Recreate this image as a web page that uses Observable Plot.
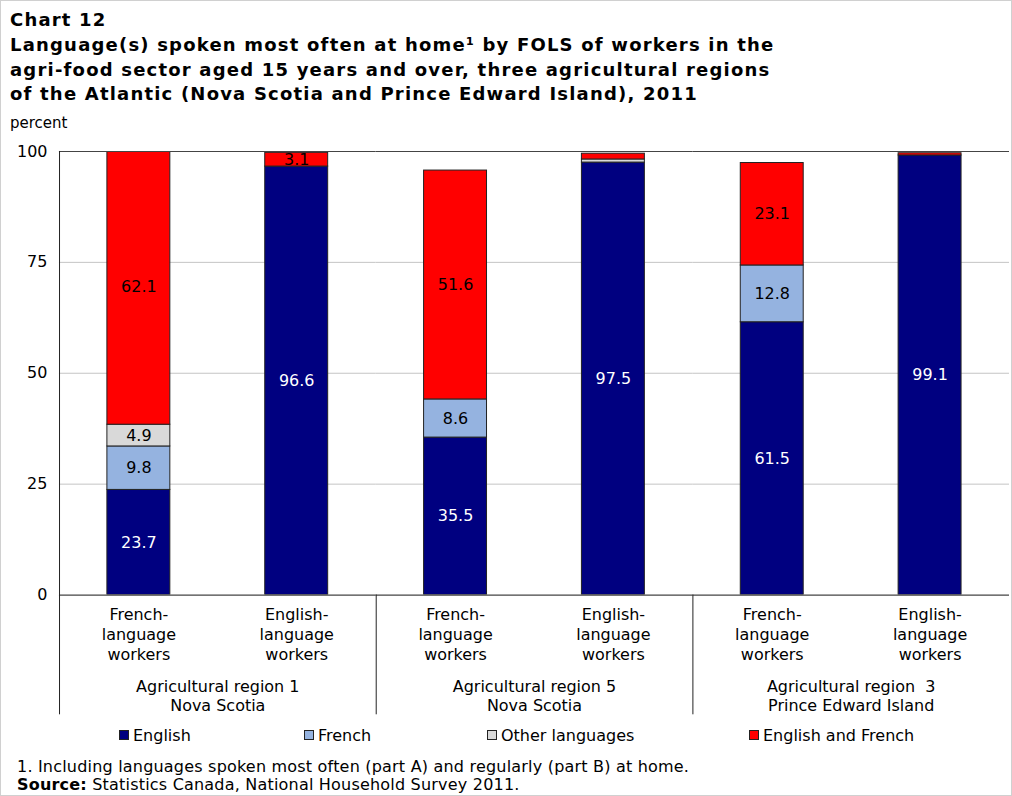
<!DOCTYPE html>
<html>
<head>
<meta charset="utf-8">
<script src="https://cdn.jsdelivr.net/npm/d3@7"></script>
<script src="https://cdn.jsdelivr.net/npm/@observablehq/plot@0.6"></script>
<style>
  html, body { margin: 0; padding: 0; background: #fff; }
  #page { position: relative; width: 1012px; height: 796px; box-sizing: border-box; border: 1px solid #d0d0d0; font-family: "DejaVu Sans", Verdana, sans-serif; color: #000; overflow: hidden; }
  .t { position: absolute; left: 9px; white-space: nowrap; }
  .title { font-weight: bold; font-size: 18px; line-height: 24.5px; letter-spacing: 1.2px; }
  #chart { position: absolute; left: -1px; top: 134px; }
  #legend { position: absolute; top: 725px; left: 0; font-size: 16px; line-height: 20px; }
  .li { position: absolute; white-space: nowrap; }
  .sw { display: inline-block; width: 8px; height: 8px; border: 1px solid #222; margin-right: 4px; vertical-align: 1px; }
  .foot { font-size: 16px; line-height: 18px; left: 16px; letter-spacing: 0.2px; }
</style>
</head>
<body>
<div id="page">
  <div class="t title" style="top:7px">Chart 12</div>
  <div class="t title" style="top:32px">Language(s) spoken most often at home¹ by FOLS of workers in the<br>agri-food sector aged 15 years and over, three agricultural regions<br>of the Atlantic (Nova Scotia and Prince Edward Island), 2011</div>
  <div class="t" style="top:113px;font-size:15px;line-height:18px">percent</div>
  <div id="chart"></div>
  <div id="legend"></div>
  <div class="t foot" style="top:757px">1. Including languages spoken most often (part A) and regularly (part B) at home.<br><b>Source:</b> Statistics Canada, National Household Survey 2011.</div>
</div>
<script>
const regions = ["Agricultural region 1\nNova Scotia", "Agricultural region 5\nNova Scotia", "Agricultural region  3\nPrince Edward Island"];
const workers = ["French-\nlanguage\nworkers", "English-\nlanguage\nworkers"];
const languages = ["English", "French", "Other languages", "English and French"];
const colors = ["#000080", "#95B3E0", "#D9D9D9", "#FF0000"];
// bar order: region1 French, region1 English, region5 French, region5 English, region3 French, region3 English
const english = [23.7, 96.6, 35.5, 97.5, 61.5, 99.1];
const french = [9.8, 0, 8.6, 0, 12.8, 0];
const otherLang = [4.9, 0, 0, 0.7, 0, 0];
const englishFrench = [62.1, 3.1, 51.6, 1.3, 23.1, 0.5];
const yTicks = [0, 25, 50, 75, 100];

const series = [english, french, otherLang, englishFrench];
const rows = [];
for (let b = 0; b < 6; b++) {
  languages.forEach((lang, k) => {
    rows.push({region: regions[Math.floor(b / 2)], worker: workers[b % 2], lang, value: series[k][b]});
  });
}
const barsOnly = d3.range(6).map(b => ({region: regions[Math.floor(b / 2)], worker: workers[b % 2]}));

const W = 1012, mL = 58, mR = 1;
const facetStep = (W - mL - mR) / regions.length;
const halfBand = facetStep / 4;
const fontFam = "DejaVu Sans, Verdana, sans-serif";

const chart = Plot.plot({
  width: W,
  height: 585,
  marginTop: 16,
  marginBottom: 125,
  marginLeft: mL,
  marginRight: mR,
  style: {fontFamily: fontFam, fontSize: "16px", color: "#000", background: "transparent"},
  fx: {domain: regions, padding: 0, axis: null},
  x: {domain: workers, paddingInner: 0.6, paddingOuter: 0.3, axis: null},
  y: {domain: [0, 100], axis: null},
  color: {domain: languages, range: colors},
  marks: [
    Plot.ruleY([25, 50, 75], {stroke: "#c4c4c4", strokeWidth: 1}),
    Plot.barY(rows, Plot.stackY({fx: "region", x: "worker", y: "value", fill: "lang", stroke: "#222", strokeWidth: 1, clip: true})),
    Plot.text(rows, Plot.stackY({fx: "region", x: "worker", y: "value", z: "lang",
      text: d => d.value >= 3 ? d.value.toFixed(1) : "",
      fill: d => d.lang === "English" ? "#fff" : "#000", fontSize: 16, letterSpacing: "1px"})),
    Plot.ruleY([0, 100], {stroke: "#444", strokeWidth: 1.2}),
    Plot.ruleX(regions, {fx: d => d, x: () => workers[0], dx: -halfBand,
      y1: (d, i) => i === 0 ? 100 : 0, y2: -27, stroke: "#222", strokeWidth: 1}),
    Plot.axisY(yTicks, {tickSize: 0, tickPadding: 12, fontSize: 16, anchor: "left", label: null}),
    Plot.text(barsOnly, {fx: "region", x: "worker", text: "worker", frameAnchor: "bottom", lineAnchor: "top", dy: 10, lineHeight: 1.28, fontSize: 16, fill: "#000"}),
    Plot.text(regions, {fx: d => d, text: d => d, frameAnchor: "bottom", lineAnchor: "top", dy: 83, lineHeight: 1.2, fontSize: 16, fill: "#000"})
  ]
});
document.getElementById("chart").appendChild(chart);

const legendLeft = [118, 303, 486, 748];
const legend = document.getElementById("legend");
languages.forEach((lang, i) => {
  const item = document.createElement("div");
  item.className = "li";
  item.style.left = legendLeft[i] + "px";
  const sw = document.createElement("span");
  sw.className = "sw";
  sw.style.background = colors[i];
  item.appendChild(sw);
  item.appendChild(document.createTextNode(lang));
  legend.appendChild(item);
});
</script>
</body>
</html>
